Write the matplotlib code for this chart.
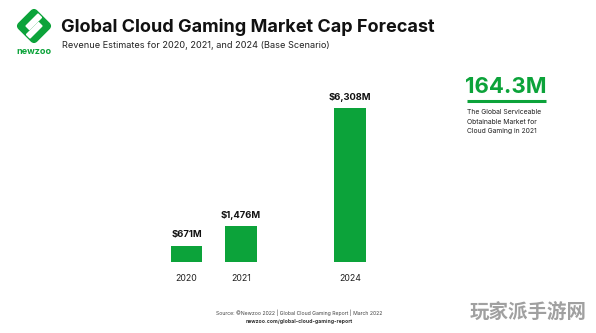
import matplotlib.pyplot as plt
from matplotlib.patches import Polygon, FancyBboxPatch
from matplotlib.transforms import Affine2D

years = ["2020", "2021", "2024"]
revenue = [671, 1476, 6308]
value_labels = ["$671M", "$1,476M", "$6,308M"]
positions = [0, 1, 3]

GREEN = "#0ca33a"
W, H = 596, 333

plt.rcParams["font.family"] = ["Inter", "DejaVu Sans"]

fig = plt.figure(figsize=(W / 100, H / 100), dpi=100)


def fx(px):
    return px / W


def fy(py):
    return 1 - py / H


# --- bars ----------------------------------------------------------------
ax = fig.add_axes([fx(150), fy(262), (400 - 150) / W, (262 - 90) / H])
ax.bar(positions, revenue, width=0.57, color=GREEN)
ax.set_xlim(-0.67, 3.917)
ax.set_ylim(0, 6308 * 172 / 154)
ax.axis("off")
for x, v, lab, yr in zip(positions, revenue, value_labels, years):
    ax.annotate(lab, (x, v), xytext=(0, 4.5), textcoords="offset points",
                ha="center", va="bottom", fontsize=6.8, fontweight="bold", color="#111111")
    ax.annotate(yr, (x, 0), xytext=(0, -12), textcoords="offset points",
                ha="center", va="center", fontsize=6.3, color="#222222")

# --- logo ----------------------------------------------------------------
lax = fig.add_axes([0, 0, 1, 1], facecolor="none")
lax.set_xlim(0, W)
lax.set_ylim(H, 0)
lax.axis("off")
cx, cy, r = 34, 26, 18
diamond = FancyBboxPatch((cx - r * 0.7, cy - r * 0.7), r * 1.4, r * 1.4,
                         boxstyle="round,pad=0,rounding_size=4", color=GREEN)
diamond.set_transform(Affine2D().rotate_deg_around(cx, cy, 45) + lax.transData)
lax.add_patch(diamond)
lax.add_patch(Polygon([[cx - 8, cy], [cx + 4, cy - 12], [cx + 7.5, cy - 8.5], [cx - 4.5, cy + 3.5]],
                      closed=True, color="white"))
lax.add_patch(Polygon([[cx + 8, cy], [cx - 4, cy + 12], [cx - 7.5, cy + 8.5], [cx + 4.5, cy - 3.5]],
                      closed=True, color="white"))
lax.text(cx, 52, "newzoo", ha="center", va="center", fontsize=6.5,
         fontweight="bold", color=GREEN)

# --- titles --------------------------------------------------------------
fig.text(fx(61), fy(27), "Global Cloud Gaming Market Cap Forecast", ha="left", va="center",
         fontsize=13, fontweight="bold", color="#111111")
fig.text(fx(62), fy(46), "Revenue Estimates for 2020, 2021, and 2024 (Base Scenario)",
         ha="left", va="center", fontsize=6.6, color="#222222")

# --- side stat -----------------------------------------------------------
fig.text(fx(465), fy(87), "164.3M", ha="left", va="center", fontsize=16,
         fontweight="bold", color=GREEN)
lax.plot([467, 546], [101, 101], color=GREEN, lw=2.2, solid_capstyle="butt")
for i, line in enumerate(["The Global Serviceable", "Obtainable Market for",
                          "Cloud Gaming in 2021"]):
    fig.text(fx(467), fy(112 + 9.5 * i), line, ha="left", va="center",
             fontsize=4.9, color="#222222")

# --- footer --------------------------------------------------------------
fig.text(fx(299), fy(313), "Source: ©Newzoo 2022 | Global Cloud Gaming Report | March 2022",
         ha="center", va="center", fontsize=3.7, color="#444444")
fig.text(fx(299), fy(321), "newzoo.com/global-cloud-gaming-report",
         ha="center", va="center", fontsize=3.7, fontweight="bold", color="#333333")

# watermark
fig.text(fx(528), fy(313), "玩家派手游网", ha="center", va="center", fontsize=14,
         fontweight="bold", color="#a0a0a0", family=["Noto Sans CJK SC", "DejaVu Sans"])

fig.savefig("out.png", dpi=100)
